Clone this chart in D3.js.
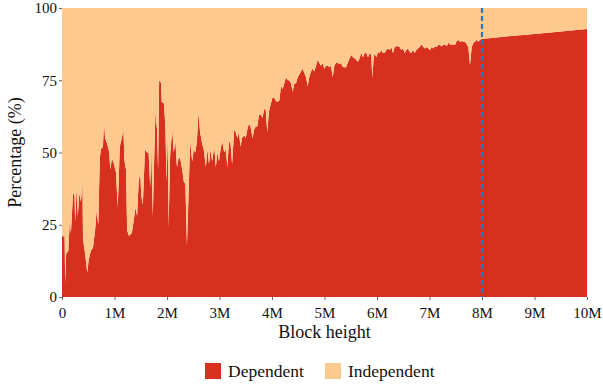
<!DOCTYPE html>
<html>
<head>
<meta charset="utf-8">
<script src="https://cdn.jsdelivr.net/npm/d3@7"></script>
<style>
  body { margin: 0; background: #fff; }
</style>
</head>
<body>
<div id="chart"></div>
<script>
// block height in millions at peaks and troughs
const blockHeightM = [
  0.00, 0.05, 0.06, 0.08, 0.12, 0.15, 0.17, 0.21, 0.24, 0.25, 0.28, 0.30, 0.33, 0.36, 0.39, 0.40,
  0.44, 0.48, 0.51, 0.55, 0.59, 0.63, 0.66, 0.69, 0.72, 0.74, 0.78, 0.80, 0.82, 0.86, 0.90, 0.92,
  0.95, 0.99, 1.03, 1.06, 1.08, 1.10, 1.14, 1.17, 1.19, 1.22, 1.24, 1.28, 1.31,
  1.33, 1.37, 1.40, 1.43, 1.46, 1.49, 1.51, 1.54, 1.58, 1.62, 1.65, 1.68, 1.70, 1.73, 1.75, 1.78,
  1.81, 1.83, 1.85, 1.89, 1.90, 1.94, 1.97, 1.99, 2.02, 2.03, 2.06, 2.10, 2.13, 2.16, 2.19, 2.22,
  2.25, 2.29, 2.32, 2.35, 2.38, 2.41, 2.44, 2.48, 2.51, 2.54, 2.57, 2.60, 2.63, 2.67, 2.70,
  2.74, 2.77, 2.80, 2.83, 2.86, 2.90, 2.93, 2.96, 2.99, 3.02, 3.05, 3.09, 3.12, 3.15, 3.18, 3.21,
  3.24, 3.28, 3.31, 3.34, 3.37, 3.40, 3.43, 3.47, 3.50, 3.53, 3.56, 3.59, 3.63, 3.66, 3.69, 3.72,
  3.75, 3.79, 3.82, 3.85, 3.88, 3.91, 3.94, 3.98, 4.01, 4.04, 4.07, 4.10, 4.14,
  4.171, 4.204, 4.234, 4.267, 4.299, 4.330, 4.362, 4.394, 4.425, 4.457, 4.490, 4.520, 4.552, 4.585,
  4.615, 4.648, 4.680, 4.710, 4.743, 4.775, 4.806, 4.838, 4.870, 4.901, 4.933, 4.966, 4.996, 5.029,
  5.061, 5.091, 5.124, 5.156, 5.187, 5.219, 5.251, 5.282, 5.314, 5.347, 5.377, 5.410, 5.442,
  5.480, 5.510, 5.543, 5.575, 5.606, 5.638, 5.670, 5.701, 5.733, 5.766, 5.796, 5.829, 5.861, 5.891,
  5.910, 5.937, 5.956, 5.987, 6.019, 6.051, 6.082, 6.114, 6.147, 6.177, 6.210, 6.242, 6.272, 6.305,
  6.337, 6.368, 6.400, 6.432, 6.463, 6.495, 6.528, 6.558, 6.590, 6.623, 6.653, 6.686, 6.718, 6.749,
  6.781, 6.813,
  6.851, 6.882, 6.914, 6.947, 6.977, 7.010, 7.042, 7.072, 7.105, 7.137, 7.168, 7.200, 7.232, 7.263,
  7.295, 7.328, 7.358, 7.390, 7.423, 7.453, 7.486, 7.518, 7.549, 7.581, 7.613, 7.644, 7.676, 7.709,
  7.739, 7.771, 7.804, 7.834, 7.867, 7.899, 7.930, 7.962, 8.000,
  8.50, 9.00, 9.50, 10.00
];

// share of dependent transactions (%)
const dependentPct = [
  21, 21, 5, 15, 16, 27, 22, 36, 35, 26, 38, 28, 36, 33, 40, 20,
  15, 8.5, 13, 16, 17, 23, 30, 25, 48, 51, 52, 61, 55, 53, 50, 44,
  48, 46, 43, 31, 40, 52, 55, 58, 47, 44, 23, 21, 22,
  22, 27, 31, 28, 40, 43, 35, 32, 51, 50, 50, 38, 52, 28, 44, 64,
  58, 44, 75, 74, 67.5, 67, 59, 40, 58, 24, 49, 58, 50, 54, 45, 48,
  48, 44, 40, 39, 18, 35, 54, 47, 51, 50, 54, 64, 57, 53, 51,
  45, 51, 46, 51, 47, 52, 45, 50, 47, 51, 54, 50, 51, 45, 54, 53,
  46, 58, 57, 55, 57, 52, 55, 56, 55, 58, 60, 59, 55, 58, 59, 59,
  63, 63, 62, 65, 65, 57, 64, 67, 69, 69, 68, 67.5, 68,
  73, 72, 74, 76, 75, 75, 74, 71, 74, 74, 76, 77, 78, 79,
  77.5, 76, 73, 76, 78, 79, 78, 80, 82, 81, 80, 81, 79, 80,
  80, 79.6, 80, 76, 80, 81, 81, 80.6, 81, 79.6, 79.5, 79.5, 81,
  82.7, 83.7, 83, 82.6, 82, 81.4, 82.7, 84.4, 83, 84.4, 84.4, 83, 84.4, 83.7,
  75.8, 82.7, 84.4, 83, 84.8, 84.4, 85.5, 84.4, 84.4, 85.5, 86, 85.5, 86.5, 84.4,
  86.5, 86.8, 86.8, 86.5, 85.5, 86, 84.4, 85.5, 86, 84.8, 84.4, 85.5, 84.4, 85.5,
  86, 86.5,
  87.5, 86.5, 86, 86.5, 86, 85.5, 86.5, 86, 86.8, 86.5, 87.2, 87.2, 86.8, 87.2,
  87.5, 86.8, 88, 87.5, 87.2, 87.5, 87.2, 88.6, 88.9, 88.3, 88.6, 88.3, 88.3, 87.5,
  86.5, 80.3, 86.5, 87.8, 88.3, 89, 88.3, 89, 89.3,
  90.2, 91.0, 91.9, 92.7
];

const seriesNames = ['Dependent', 'Independent'];
const seriesColors = ['#d8301f', '#fdc98c'];
const xTicks = [0, 1, 2, 3, 4, 5, 6, 7, 8, 9, 10];
const yTicks = [0, 25, 50, 75, 100];
const markerBlockM = 8;

const width = 603, height = 388;
const margin = { top: 8, right: 16, bottom: 91, left: 62 };
const serif = '"Liberation Serif", "DejaVu Serif", serif';

const rows = blockHeightM.map((b, i) => ({
    block: b,
    Dependent: dependentPct[i],
    Independent: 100 - dependentPct[i]
}));

const x = d3.scaleLinear().domain([0, 10]).range([margin.left, width - margin.right]);
const y = d3.scaleLinear().domain([0, 100]).range([height - margin.bottom, margin.top]);

const svg = d3.select('#chart').append('svg')
    .attr('width', width)
    .attr('height', height)
    .attr('font-family', serif);

const stacked = d3.stack().keys(seriesNames)(rows);

const area = d3.area()
    .x(d => x(d.data.block))
    .y0(d => y(d[0]))
    .y1(d => y(d[1]));

svg.append('g')
    .selectAll('path')
    .data(stacked)
    .join('path')
        .attr('fill', (d, i) => seriesColors[i])
        .attr('d', area);

// dashed marker at 8M
svg.append('line')
    .attr('x1', x(markerBlockM)).attr('x2', x(markerBlockM))
    .attr('y1', y(100)).attr('y2', y(0))
    .attr('stroke', '#1f77d0')
    .attr('stroke-width', 2.2)
    .attr('stroke-dasharray', '5,3');

const xAxis = svg.append('g')
    .attr('transform', `translate(0,${y(0)})`)
    .call(d3.axisBottom(x).tickValues(xTicks).tickSize(3).tickPadding(7)
        .tickFormat(d => d === 0 ? '0' : d + 'M'));

const yAxis = svg.append('g')
    .attr('transform', `translate(${margin.left},0)`)
    .call(d3.axisLeft(y).tickValues(yTicks).tickSize(3).tickPadding(2));

[xAxis, yAxis].forEach(g => {
    g.attr('font-family', serif);
    g.select('.domain').remove();
    g.selectAll('.tick line').attr('stroke', '#666');
    g.selectAll('.tick text')
        .attr('font-size', '15px')
        .attr('fill', '#111');
});

svg.append('text')
    .attr('x', (x(0) + x(10)) / 2)
    .attr('y', 338)
    .attr('text-anchor', 'middle')
    .attr('font-family', serif)
    .attr('font-size', '18px')
    .attr('fill', '#111')
    .text('Block height');

svg.append('text')
    .attr('transform', `translate(21,${(y(0) + y(100)) / 2}) rotate(-90)`)
    .attr('text-anchor', 'middle')
    .attr('font-family', serif)
    .attr('font-size', '18px')
    .attr('fill', '#111')
    .text('Percentage (%)');

// legend
const legendX = [205, 325];
const legend = svg.append('g')
    .selectAll('g')
    .data(seriesNames)
    .join('g')
        .attr('transform', (d, i) => `translate(${legendX[i]},363)`);

legend.append('rect')
    .attr('width', 16)
    .attr('height', 16)
    .attr('fill', (d, i) => seriesColors[i]);

legend.append('text')
    .attr('x', 23)
    .attr('y', 14)
    .attr('font-family', serif)
    .attr('font-size', '17.5px')
    .attr('fill', '#111')
    .text(d => d);
</script>
</body>
</html>
